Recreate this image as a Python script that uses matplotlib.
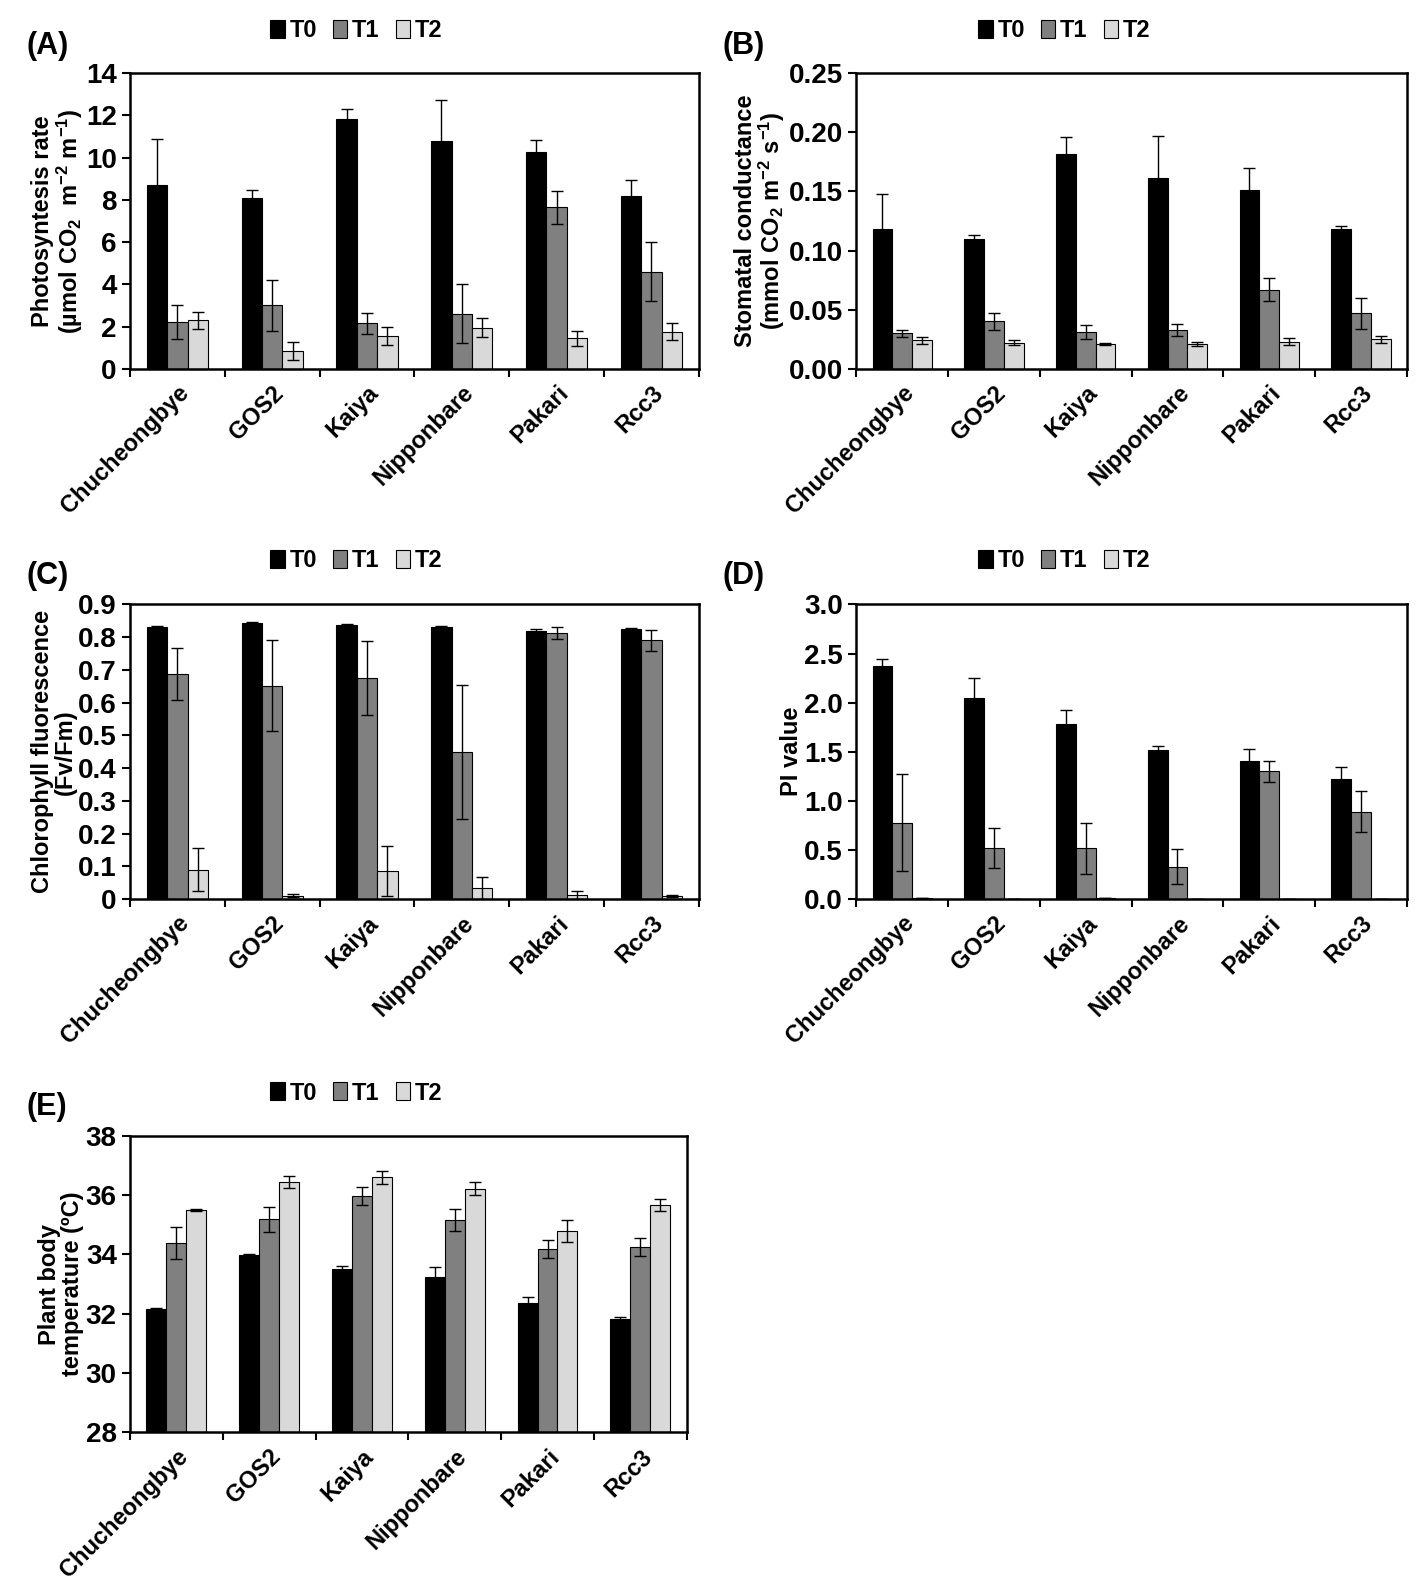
import numpy as np
import matplotlib
matplotlib.use('Agg')
import matplotlib.pyplot as plt
from matplotlib.patches import Patch
from matplotlib.ticker import FormatStrFormatter, FixedLocator

plt.rcParams['font.family'] = ['Liberation Sans', 'DejaVu Sans']
plt.rcParams['font.weight'] = 'bold'
plt.rcParams['mathtext.fontset'] = 'custom'
plt.rcParams['mathtext.rm'] = 'Liberation Sans:bold'
plt.rcParams['mathtext.it'] = 'Liberation Sans:bold'
plt.rcParams['mathtext.bf'] = 'Liberation Sans:bold'

cultivars = ['Chucheongbye', 'GOS2', 'Kaiya', 'Nipponbare', 'Pakari', 'Rcc3']
treatments = ['T0', 'T1', 'T2']

# (A) photosynthesis rate
photo_t0 = [8.7, 8.1, 11.85, 10.8, 10.25, 8.2]
photo_t0_err = [2.2, 0.35, 0.45, 1.95, 0.6, 0.75]
photo_t1 = [2.2, 3.0, 2.15, 2.6, 7.65, 4.6]
photo_t1_err = [0.8, 1.2, 0.5, 1.4, 0.78, 1.4]
photo_t2 = [2.3, 0.85, 1.55, 1.95, 1.45, 1.75]
photo_t2_err = [0.4, 0.43, 0.42, 0.45, 0.35, 0.4]

# (B) stomatal conductance
cond_t0 = [0.118, 0.110, 0.182, 0.161, 0.151, 0.118]
cond_t0_err = [0.030, 0.003, 0.014, 0.036, 0.019, 0.003]
cond_t1 = [0.030, 0.040, 0.031, 0.033, 0.067, 0.047]
cond_t1_err = [0.003, 0.007, 0.006, 0.005, 0.010, 0.013]
cond_t2 = [0.024, 0.022, 0.021, 0.021, 0.023, 0.025]
cond_t2_err = [0.003, 0.002, 0.001, 0.002, 0.003, 0.003]

# (C) chlorophyll fluorescence
fvfm_t0 = [0.832, 0.843, 0.838, 0.832, 0.820, 0.826]
fvfm_t0_err = [0.002, 0.002, 0.002, 0.002, 0.005, 0.003]
fvfm_t1 = [0.688, 0.652, 0.676, 0.450, 0.812, 0.790]
fvfm_t1_err = [0.080, 0.138, 0.113, 0.205, 0.018, 0.033]
fvfm_t2 = [0.090, 0.010, 0.085, 0.034, 0.012, 0.009]
fvfm_t2_err = [0.065, 0.005, 0.077, 0.033, 0.013, 0.003]

# (D) PI value
pi_t0 = [2.37, 2.05, 1.78, 1.52, 1.41, 1.22]
pi_t0_err = [0.08, 0.20, 0.15, 0.04, 0.12, 0.13]
pi_t1 = [0.78, 0.52, 0.52, 0.33, 1.30, 0.89]
pi_t1_err = [0.49, 0.20, 0.26, 0.18, 0.11, 0.21]
pi_t2 = [0.01, 0.0, 0.01, 0.0, 0.0, 0.0]
pi_t2_err = [0.0, 0.0, 0.0, 0.0, 0.0, 0.0]

# (E) plant body temperature
temp_t0 = [32.15, 33.97, 33.52, 33.25, 32.38, 31.83]
temp_t0_err = [0.05, 0.06, 0.10, 0.33, 0.20, 0.05]
temp_t1 = [34.38, 35.18, 35.97, 35.15, 34.18, 34.25]
temp_t1_err = [0.54, 0.42, 0.30, 0.37, 0.30, 0.30]
temp_t2 = [35.50, 36.45, 36.60, 36.22, 34.78, 35.68]
temp_t2_err = [0.05, 0.20, 0.22, 0.23, 0.37, 0.20]

colors = ['#000000', '#808080', '#d9d9d9']

W, H = 1394.0, 1568.0
fig = plt.figure(figsize=(14.16, 15.93), dpi=100)


def make_axes(l, r, t, b):
    return fig.add_axes([l / W, 1 - b / H, (r - l) / W, (b - t) / H])


def panel(ax, series, errs, ylim, yticks, fmt, ylabel, tag, leg_xy, label_xy):
    x = np.arange(len(cultivars))
    w = 0.215
    for k, (vals, err) in enumerate(zip(series, errs)):
        vals = np.array(vals)
        ax.bar(x + (k - 1) * w, vals - ylim[0], w, bottom=ylim[0],
               color=colors[k], edgecolor='black', linewidth=0.8, zorder=2)
        ax.errorbar(x + (k - 1) * w, vals, yerr=err, fmt='none',
                    ecolor='black', elinewidth=1, capsize=4, capthick=1, zorder=3)
    ax.set_xlim(-0.5, len(cultivars) - 0.5)
    ax.set_ylim(*ylim)
    ax.set_yticks(yticks)
    if fmt == 'c':
        ax.set_yticklabels(['0'] + ['%.1f' % v for v in yticks[1:]])
    else:
        ax.yaxis.set_major_formatter(FormatStrFormatter(fmt))
    ax.xaxis.set_major_locator(FixedLocator(np.arange(-0.5, len(cultivars), 1.0)))
    ax.xaxis.set_minor_locator(FixedLocator(x))
    ax.set_xticklabels([])
    ax.set_xticklabels(cultivars, minor=True, rotation=45, ha='right',
                       rotation_mode='anchor', fontsize=17, fontweight='bold')
    ax.tick_params(axis='x', which='major', direction='out', length=6, width=1.5)
    ax.tick_params(axis='x', which='minor', length=0, pad=9)
    ax.tick_params(axis='y', direction='out', length=6, width=1.5, labelsize=20)
    for lab in ax.get_yticklabels():
        lab.set_fontweight('bold')
    for s in ax.spines.values():
        s.set_linewidth(1.8)
    ax.set_ylabel(ylabel, fontsize=17, fontweight='bold', linespacing=1.0, labelpad=1)
    fig.text(label_xy[0] / W, 1 - label_xy[1] / H, tag, fontsize=22,
             fontweight='bold', ha='left', va='center')
    handles = [Patch(facecolor=c, edgecolor='black', linewidth=0.8) for c in colors]
    fig.legend(handles, treatments, loc='center', ncol=3, frameon=False,
               bbox_to_anchor=(leg_xy[0] / W, 1 - leg_xy[1] / H),
               prop={'weight': 'bold', 'size': 17}, handlelength=0.6,
               handleheight=0.8, handletextpad=0.2, columnspacing=0.7)


axA = make_axes(128, 688, 72, 363)
panel(axA, [photo_t0, photo_t1, photo_t2], [photo_t0_err, photo_t1_err, photo_t2_err],
      (0, 14), np.arange(0, 15, 2), '%d',
      'Photosyntesis rate\n(\u00b5mol CO$_2$  m$^{-2}$ m$^{-1}$)', '(A)', (351, 30), (26, 45))

axB = make_axes(843, 1385, 72, 363)
panel(axB, [cond_t0, cond_t1, cond_t2], [cond_t0_err, cond_t1_err, cond_t2_err],
      (0, 0.25), np.arange(0, 0.26, 0.05), '%.2f',
      'Stomatal conductance\n(mmol CO$_2$ m$^{-2}$ s$^{-1}$)', '(B)', (1048, 30), (711, 45))

axC = make_axes(128, 688, 595, 885)
panel(axC, [fvfm_t0, fvfm_t1, fvfm_t2], [fvfm_t0_err, fvfm_t1_err, fvfm_t2_err],
      (0, 0.9), np.round(np.arange(0, 0.91, 0.1), 1), 'c',
      'Chlorophyll fluorescence\n(Fv/Fm)', '(C)', (351, 552), (26, 567))

axD = make_axes(843, 1385, 595, 885)
panel(axD, [pi_t0, pi_t1, pi_t2], [pi_t0_err, pi_t1_err, pi_t2_err],
      (0, 3.0), np.arange(0, 3.01, 0.5), '%.1f',
      'PI value', '(D)', (1048, 552), (711, 567))

axE = make_axes(128, 676, 1118, 1410)
panel(axE, [temp_t0, temp_t1, temp_t2], [temp_t0_err, temp_t1_err, temp_t2_err],
      (28, 38), np.arange(28, 39, 2), '%d',
      'Plant body\ntemperature (\u00baC)', '(E)', (351, 1076), (26, 1090))

fig.savefig('out.png', dpi=100)
